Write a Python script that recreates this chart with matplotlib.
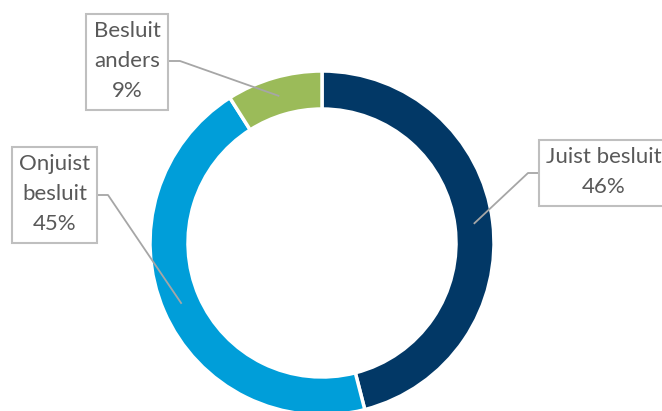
import numpy as np
import matplotlib.pyplot as plt
from matplotlib.patches import Rectangle

labels = ["Juist besluit", "Onjuist besluit", "Besluit anders"]
shares = [46, 45, 9]
box_text = ["Juist besluit\n46%", "Onjuist\nbesluit\n45%", "Besluit\nanders\n9%"]
colors = ["#023866", "#009ED9", "#9BBB59"]

W, H = 662, 411
fig = plt.figure(figsize=(W / 100, H / 100), dpi=100)
ax = fig.add_axes([0, 0, 1, 1])

cx, cy, R, ring = 322, 411 - 243, 172, 38
wedges, _ = ax.pie(shares, colors=colors, startangle=90, counterclock=False,
                   center=(cx, cy), radius=R, frame=True,
                   wedgeprops=dict(width=ring, edgecolor="white", linewidth=2.5))
ax.set_xlim(0, W)
ax.set_ylim(0, H)
ax.set_aspect("equal")
ax.axis("off")

# label boxes (x0, y0 top in image px, width, height) and elbow points
boxes = [(539, 140, 130, 66), (12, 147, 85, 96), (86, 14, 82, 96)]
elbows = [(528, 173, 539), (108, 195, 97), (180, 61, 168)]
text_x = [604, 54.5, 127]

for w, txt, (bx, by, bw, bh), (ex, ey, edge), tx in zip(wedges, box_text, boxes, elbows, text_x):
    ang = np.deg2rad((w.theta1 + w.theta2) / 2)
    r_mid = R - ring / 2
    px, py = cx + r_mid * np.cos(ang), cy + r_mid * np.sin(ang)
    ax.plot([edge, ex, px], [H - ey, H - ey, py], color="#A6A6A6", lw=1.3,
            solid_capstyle="butt", zorder=3)
    ax.add_patch(Rectangle((bx, H - by - bh), bw, bh, facecolor="white",
                           edgecolor="#BFBFBF", lw=1.5, zorder=4, clip_on=False))
    ax.text(tx, H - by - bh / 2 + 1, txt, ha="center", va="center",
            fontsize=16, family="Lato", color="#595959", linespacing=1.65, zorder=5)

fig.savefig("out.png", dpi=100)
